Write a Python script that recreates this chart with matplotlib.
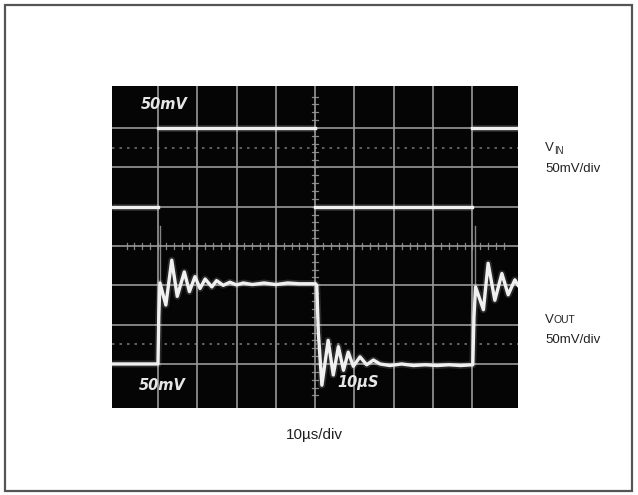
import numpy as np
import matplotlib
matplotlib.use("Agg")
import matplotlib.pyplot as plt
from matplotlib.patches import Rectangle

# ---- data (time in µs, amplitude in mV) ----
vin_t = [-1.7, 10.0, np.nan, 10.0, 50.0, np.nan, 50.0, 90.0, np.nan, 90.0, 101.6]
vin_mv = [0, 0, np.nan, 100, 100, np.nan, 0, 0, np.nan, 100, 100]

vout_t = [-1.7, 10.0, 10.2, 10.5, 12.0, 13.5, 14.9, 16.7, 18.0, 19.4, 20.7, 22.0,
          23.7, 24.9, 26.6, 28.3, 30.0, 31.7, 34.0, 37.0, 40.0, 43.0, 46.0, 50.1,
          50.4, 50.8, 51.7, 53.3, 54.6, 55.9, 57.2, 58.4, 59.7, 61.4, 63.1, 64.8,
          66.5, 69.0, 72.0, 75.0, 78.0, 81.0, 84.0, 87.0, 90.1,
          90.4, 90.8, 92.8, 94.0, 95.7, 97.5, 99.1, 100.8, 101.6]
vout_mv = [0, 0, 60, 103, 75, 132, 86, 117, 92, 111, 96, 108,
           98, 106, 100, 104, 100.5, 103, 101, 103, 101, 103, 102, 102,
           100, 40, -27, 30, -14, 22, -8, 15, -3, 9, -1, 5,
           0, -2, 0, -2, -1, -2, -1, -2, -1,
           60, 98, 69, 128, 81, 115, 88, 107, 100]

spike_t = [10.4, 10.4, np.nan, 90.6, 90.6]
spike_mv = [100, 175, np.nan, 100, 175]

x_div_labels = ["50mV", "50mV", "10µS"]
right_labels = ["V", "IN", "V", "OUT", "50mV/div", "10µs/div"]

MV_PER_DIV = 50.0
US_PER_DIV = 10.0
VIN_OFFSET = 5.0
VOUT_OFFSET = 1.0

# ---- figure ----
W, H = 638, 495
fig = plt.figure(figsize=(W / 100, H / 100), dpi=100)
fig.patch.set_facecolor("white")

# outer frame
fig.patches.append(Rectangle((5 / W, 4 / H), 627 / W, 486 / H, transform=fig.transFigure,
                             fill=False, edgecolor="#555555", linewidth=1.6))

ax = fig.add_axes([112 / W, 87 / H, 406 / W, 322 / H])
ax.set_facecolor("#050505")
ax.set_xlim(-1.7, 101.6)
ax.set_ylim(-0.12, 8.07)
ax.set_xticks([])
ax.set_yticks([])
for s in ax.spines.values():
    s.set_visible(False)

gcol = "#9c9c9c"
# graticule
for k in range(1, 10):
    ax.axvline(k * US_PER_DIV, color=gcol, lw=1.3, alpha=0.9, zorder=1)
for k in range(1, 8):
    ax.axhline(k, color=gcol, lw=1.3, alpha=0.9, zorder=1)
# dotted reference lines
for yy in (1.5, 6.5):
    ax.axhline(yy, color=gcol, lw=1.2, ls=(0, (1.5, 3)), alpha=0.7, zorder=1)
# centre-line minor ticks
yt = np.arange(0.2, 8.0, 0.2)
ax.plot(np.column_stack([np.full_like(yt, 49.3), np.full_like(yt, 50.7)]).T,
        np.vstack([yt, yt]), color=gcol, lw=0.9, alpha=0.85, zorder=1)
xt = np.arange(2, 100, 2.0)
ax.plot(np.vstack([xt, xt]), np.column_stack([np.full_like(xt, 3.93), np.full_like(xt, 4.07)]).T,
        color=gcol, lw=0.9, alpha=0.85, zorder=1)

# traces
vin_y = VIN_OFFSET + np.array(vin_mv, dtype=float) / MV_PER_DIV
vout_y = VOUT_OFFSET + np.array(vout_mv, dtype=float) / MV_PER_DIV
spike_y = VOUT_OFFSET + np.array(spike_mv, dtype=float) / MV_PER_DIV
for xs, ys in ((vin_t, vin_y), (vout_t, vout_y)):
    ax.plot(xs, ys, color="white", lw=5, alpha=0.14, solid_capstyle="butt", zorder=3)
    ax.plot(xs, ys, color="#f0f0f0", lw=2.4, solid_joinstyle="round", zorder=4)
ax.plot(spike_t, spike_y, color="#bbbbbb", lw=1.0, alpha=0.7, zorder=3)

# on-screen labels
scr = dict(color="#e6e6e6", fontsize=10.5, fontweight="bold", fontstyle="italic",
           ha="center", va="center", family=["DejaVu Sans"], zorder=5)
ax.text(11.5, 7.6, x_div_labels[0], **scr)
ax.text(11.0, 0.45, x_div_labels[1], **scr)
ax.text(61.0, 0.52, x_div_labels[2], **scr)

# right side labels
fam = ["Liberation Sans Narrow", "Liberation Sans", "DejaVu Sans"]
def ftext(px, py, s, size, **kw):
    fig.text(px / W, 1 - py / H, s, fontsize=size, family=fam, color="#222222", **kw)

ftext(545, 151, right_labels[0], 9.5, va="baseline")
ftext(554, 154, right_labels[1], 7, va="baseline")
ftext(545, 172, right_labels[4], 9.5, va="baseline")
ftext(545, 323, right_labels[2], 9.5, va="baseline")
ftext(554, 323, right_labels[3], 7.5, va="baseline")
ftext(545, 343, right_labels[4], 9.5, va="baseline")
ftext(314, 435, right_labels[5], 11, ha="center", va="center")

fig.savefig("out.png", dpi=100)
